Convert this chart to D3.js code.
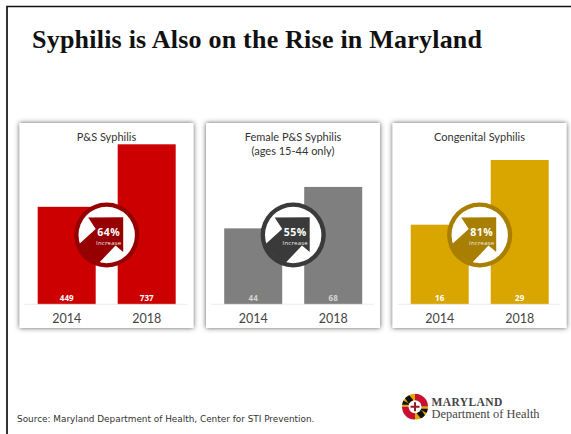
<!DOCTYPE html>
<html>
<head>
<meta charset="utf-8">
<script src="https://cdn.jsdelivr.net/npm/d3@7/dist/d3.min.js"></script>
<style>
  html, body { margin: 0; padding: 0; background: #fff; }
  svg { display: block; }
</style>
</head>
<body>
<svg id="chart" width="571" height="434"></svg>
<script>
// Syphilis case counts by year, one small panel per population.
const years = ["2014", "2018"];
const panelTitles = [
  ["P&S Syphilis"],
  ["Female P&S Syphilis", "(ages 15-44 only)"],
  ["Congenital Syphilis"]
];
const psSyphilis = [449, 737];
const femalePsSyphilis = [44, 68];
const congenitalSyphilis = [16, 29];
const panelValues = [psSyphilis, femalePsSyphilis, congenitalSyphilis];
const panelAxisMax = [737, 92.7, 32.15];
const increaseLabels = ["64%", "55%", "81%"];
const barColors = ["#cc0000", "#7f7f7f", "#d9a600"];
const badgeColors = ["#960000", "#3a3a3a", "#a87f00"];

const svg = d3.select("#chart");

const defs = svg.append("defs");
const shadow = defs.append("filter").attr("id", "cardShadow")
  .attr("x", "-10%").attr("y", "-10%").attr("width", "120%").attr("height", "120%");
shadow.append("feDropShadow")
  .attr("dx", 0).attr("dy", 0).attr("stdDeviation", 2.8)
  .attr("flood-color", "#444").attr("flood-opacity", 0.9);

// Slide frame: heavy rule along the top and left edges.
svg.append("path")
  .attr("d", "M7,434V6.5H571")
  .attr("fill", "none").attr("stroke", "#111").attr("stroke-width", 1.7);

svg.append("text")
  .attr("x", 32).attr("y", 47.5)
  .attr("font-family", "'Liberation Serif', serif")
  .attr("font-weight", 700).attr("font-size", 26)
  .attr("textLength", 450).attr("lengthAdjust", "spacing")
  .attr("fill", "#111")
  .text("Syphilis is Also on the Rise in Maryland");

svg.append("text")
  .attr("x", 17).attr("y", 422)
  .attr("font-family", "'DejaVu Sans', sans-serif")
  .attr("font-size", 8.9).attr("fill", "#333")
  .text("Source: Maryland Department of Health, Center for STI Prevention.");

const cardWidth = 174, cardTop = 123, cardHeight = 205;
const panelLeft = d3.scaleLinear().domain([0, 1]).range([19.5, 206]);
const baseline = 304.3;

panelValues.forEach((values, i) => {
  const g = svg.append("g").attr("transform", `translate(${panelLeft(i)},0)`);

  g.append("rect")
    .attr("x", 0).attr("y", cardTop)
    .attr("width", cardWidth).attr("height", cardHeight)
    .attr("fill", "#fff").attr("filter", "url(#cardShadow)");

  const x = d3.scaleBand().domain(years).range([18.2, 156.2]).paddingInner(0.275).paddingOuter(0);
  const y = d3.scaleLinear().domain([0, panelAxisMax[i]]).range([baseline, baseline - 160]);

  const titleLines = panelTitles[i];
  titleLines.forEach((line, k) => {
    g.append("text")
      .attr("x", cardWidth / 2).attr("y", 140.5 + k * 14.5)
      .attr("text-anchor", "middle")
      .attr("font-family", "Lato, sans-serif").attr("font-size", 11)
      .attr("fill", "#333").text(line);
  });

  g.selectAll("rect.bar").data(values).join("rect")
    .attr("class", "bar")
    .attr("x", (d, k) => x(years[k]))
    .attr("y", d => y(d))
    .attr("width", x.bandwidth())
    .attr("height", d => y(0) - y(d))
    .attr("fill", barColors[i]);

  g.selectAll("text.value").data(values).join("text")
    .attr("class", "value")
    .attr("x", (d, k) => x(years[k]) + x.bandwidth() / 2)
    .attr("y", 300.7)
    .attr("text-anchor", "middle")
    .attr("font-family", "'Open Sans', sans-serif").attr("font-weight", 700)
    .attr("font-size", 8).attr("fill", i === 1 ? "#d4d4d4" : "#fff")
    .text(d => d);

  // Faint baseline and the year axis below it.
  const axis = g.append("g")
    .attr("transform", `translate(0,${baseline})`)
    .call(d3.axisBottom(x).tickSize(0).tickPadding(9.5));
  axis.select(".domain").attr("d", "M5,0H168").attr("stroke", "#e8e8e8").attr("stroke-width", 0.8);
  axis.selectAll("text")
    .attr("font-family", "Lato, sans-serif").attr("font-size", 12.5).attr("fill", "#444");

  // Percent-change badge: ringed disc with an up-right arrow clipped to it.
  const cx = 87.2, cy = 235;
  const badge = g.append("g").attr("transform", `translate(${cx},${cy})`);
  badge.append("circle").attr("r", 32.6).attr("fill", badgeColors[i]);
  badge.append("circle").attr("r", 28.2).attr("fill", "#fff");
  const clipId = `badgeClip${i}`;
  defs.append("clipPath").attr("id", clipId).append("circle").attr("r", 28.8);
  badge.append("path")
    .attr("clip-path", `url(#${clipId})`)
    .attr("d", "M-18.5,-17.5L16.5,-17.8L16.5,17L8.8,10.5L-21,42L-42,22L-11,-6Z")
    .attr("fill", badgeColors[i]);
  badge.append("text")
    .attr("x", 2).attr("y", 0.5).attr("text-anchor", "middle")
    .attr("font-family", "'Open Sans', sans-serif").attr("font-weight", 700)
    .attr("font-size", 10.5).attr("letter-spacing", 0.4).attr("fill", "#fff")
    .text(increaseLabels[i]);
  badge.append("text")
    .attr("x", 2).attr("y", 9.9).attr("text-anchor", "middle")
    .attr("font-family", "'Open Sans', sans-serif")
    .attr("font-size", 6).attr("letter-spacing", 0.2).attr("fill", "#eee")
    .text("Increase");
});

// Department logo: Maryland flag roundel beside the wordmark.
const logo = svg.append("g").attr("transform", "translate(415,406.7)");
defs.append("clipPath").attr("id", "sealClip").append("circle").attr("r", 13);
const seal = logo.append("g").attr("clip-path", "url(#sealClip)");
const quadrants = [[-13, -13, "#e0a800"], [0, -13, "#c8102e"], [-13, 0, "#c8102e"], [0, 0, "#e0a800"]];
seal.selectAll("rect.quad").data(quadrants).join("rect")
  .attr("class", "quad")
  .attr("x", d => d[0]).attr("y", d => d[1])
  .attr("width", 13).attr("height", 13).attr("fill", d => d[2]);
seal.append("path").attr("d", "M-13,-13L-7,-13L-2,-7L-2,-2L-7,-4Z M2,2L7,4L13,13L7,13L2,7Z M-13,-2L-13,-7L-4,-2Z M13,2L13,7L4,2Z").attr("fill", "#111");
seal.append("circle").attr("r", 6.5).attr("fill", "#fff");
seal.append("path").attr("d", "M-4.5,0H4.5M0,-4.5V4.5").attr("stroke", "#8c1c2c").attr("stroke-width", 2);

svg.append("text")
  .attr("x", 431.5).attr("y", 405.5)
  .attr("font-family", "'Liberation Serif', serif").attr("font-weight", 700)
  .attr("font-size", 11.5).attr("letter-spacing", 0.4).attr("fill", "#444")
  .text("MARYLAND");
svg.append("text")
  .attr("x", 431.5).attr("y", 417.5)
  .attr("font-family", "'Liberation Serif', serif")
  .attr("font-size", 12.4).attr("fill", "#444")
  .text("Department of Health");
</script>
</body>
</html>
